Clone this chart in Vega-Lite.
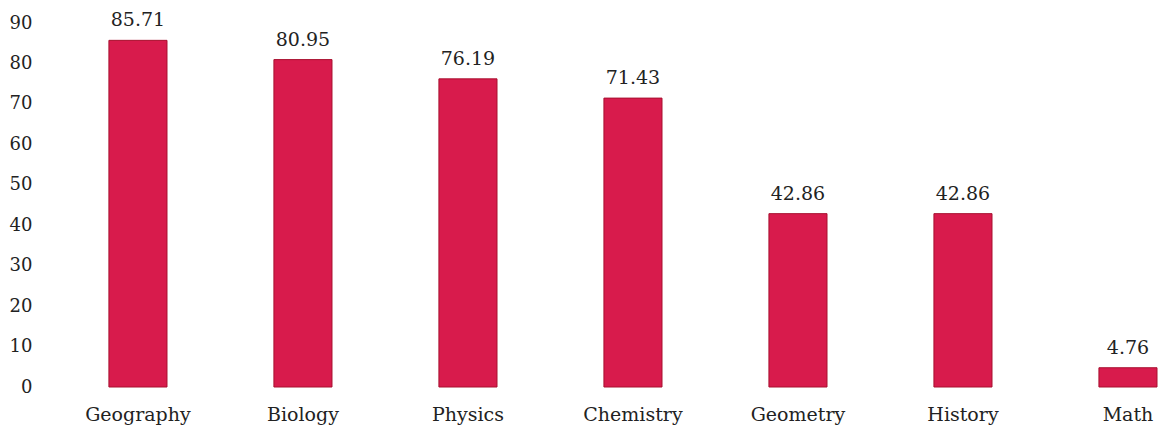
{
  "$schema": "https://vega.github.io/schema/vega-lite/v6.json",
  "autosize": "none",
  "width": 1123,
  "height": 364,
  "padding": {"left": 40, "top": 23, "right": 0, "bottom": 52},
  "background": "#ffffff",
  "config": {
    "view": {"stroke": null},
    "font": "DejaVu Serif"
  },
  "data": {
    "values": [
      {"subject": "Geography", "value": 85.71},
      {"subject": "Biology", "value": 80.95},
      {"subject": "Physics", "value": 76.19},
      {"subject": "Chemistry", "value": 71.43},
      {"subject": "Geometry", "value": 42.86},
      {"subject": "History", "value": 42.86},
      {"subject": "Math", "value": 4.76}
    ]
  },
  "encoding": {
    "x": {
      "field": "subject",
      "type": "nominal",
      "sort": null,
      "scale": {"paddingInner": 0.648, "paddingOuter": 0.227, "align": 0.92},
      "axis": {
        "title": null,
        "domain": false,
        "ticks": false,
        "labelAngle": 0,
        "labelFont": "DejaVu Serif",
        "labelFontSize": 19,
        "labelColor": "#222222",
        "labelPadding": 18
      }
    },
    "y": {
      "field": "value",
      "type": "quantitative",
      "scale": {"domain": [0, 90], "nice": false},
      "axis": {
        "title": null,
        "domain": false,
        "ticks": false,
        "grid": false,
        "values": [0, 10, 20, 30, 40, 50, 60, 70, 80, 90],
        "labelFont": "DejaVu Serif",
        "labelFontSize": 18,
        "labelColor": "#222222",
        "labelPadding": 8
      }
    }
  },
  "layer": [
    {
      "mark": {"type": "bar", "color": "#D81B4C", "stroke": "#A8102F", "strokeWidth": 1}
    },
    {
      "mark": {
        "type": "text",
        "baseline": "alphabetic",
        "dy": -14,
        "font": "DejaVu Serif",
        "fontSize": 19,
        "color": "#222222"
      },
      "encoding": {"text": {"field": "value", "type": "quantitative", "format": ".2f"}}
    }
  ]
}
